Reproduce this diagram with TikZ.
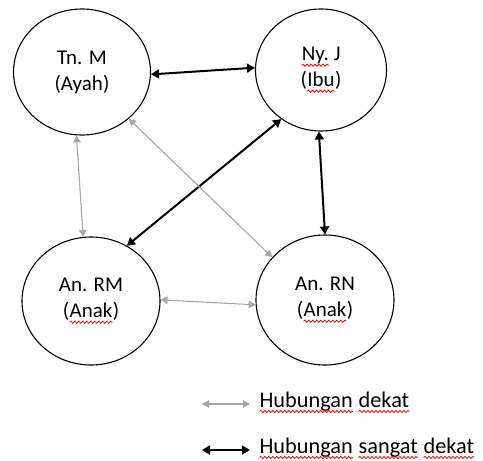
\documentclass[tikz,border=0pt]{standalone}
\usepackage{fontspec}
\setmainfont{Carlito}
\usetikzlibrary{shapes.geometric,arrows.meta,decorations.pathmorphing}
\definecolor{lightline}{HTML}{A6A6A6}
\newcommand{\rw}[1]{\tikz[baseline=(w.base),x=1pt,y=1pt]{\node[rectangle,anchor=center,minimum width=0pt,minimum height=0pt,inner sep=0pt,outer sep=0pt,draw=none,fill=none,align=left] (w) {#1};\draw[red,line width=0.8pt,decorate,decoration={snake,amplitude=1.1pt,segment length=4pt}] ([yshift=-4.5pt]w.base west) -- ([yshift=-4.5pt]w.base east);}}
\begin{document}
\begin{tikzpicture}[x=1pt,y=-1pt,
  person/.style={ellipse,draw,line width=1.1pt,inner sep=0pt,align=center,font=\fontsize{21}{26}\selectfont},
  strong/.style={line width=2pt,{Triangle[length=8pt,width=9pt]}-{Triangle[length=8pt,width=9pt]}},
  weak/.style={draw=lightline,line width=1.1pt,{Triangle[length=7pt,width=7.5pt]}-{Triangle[length=7pt,width=7.5pt]}},
  legtext/.style={anchor=base west,inner sep=0pt,font=\fontsize{22.3}{26}\selectfont}]
\useasboundingbox (0,0) rectangle (483,461);
\node[person,minimum width=137pt,minimum height=126pt] (tnm) at (82,72) {Tn. M\\(Ayah)};
\node[person,minimum width=131pt,minimum height=122pt] (nyj) at (321,70) {\rw{Ny.} J\\(\rw{Ibu})};
\node[person,minimum width=138pt,minimum height=128pt] (anrm) at (91,301) {An. RM\\(\rw{Anak})};
\node[person,minimum width=138pt,minimum height=130pt] (anrn) at (325,300) {An. RN\\(\rw{Anak})};
% strong ties
\draw[strong] (tnm.-2.5) -- (nyj.178);
\draw[strong] (nyj.231) -- (anrm.57.7);
\draw[strong] (nyj.268) -- (anrn.90);
% close ties
\draw[weak] (tnm.265.6) -- (anrm.97);
\draw[weak] (tnm.-45) -- (anrn.141);
\draw[weak] (anrm.1) -- (anrn.184);
% legend
\coordinate (g1) at (202,404);
\coordinate (g2) at (250,404);
\coordinate (b1) at (202,450);
\coordinate (b2) at (250,450);
\draw[weak] (g1) -- (g2);
\draw[strong] (b1) -- (b2);
\node[legtext] (lg) at (259,407) {\rw{Hubungan} \rw{dekat}};
\node[legtext] (lb) at (259,453) {\rw{Hubungan} \rw{sangat} \rw{dekat}};
\end{tikzpicture}
\end{document}
